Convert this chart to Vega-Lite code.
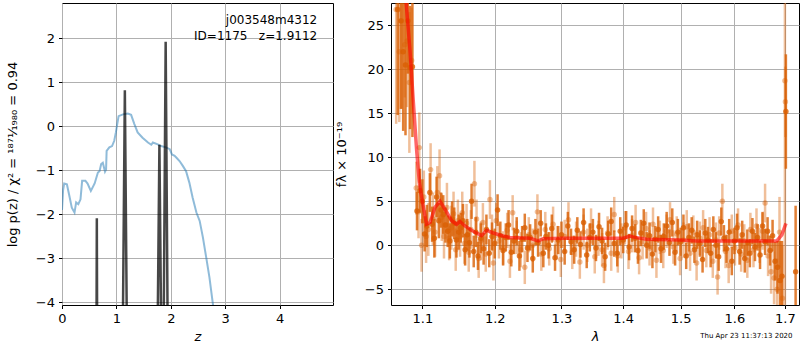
{
  "$schema": "https://vega.github.io/schema/vega-lite/v6.json",
  "padding": {"left": 5, "top": 2, "right": 0, "bottom": 0},
  "background": "white",
  "title": {"text": "Thu Apr 23 11:37:13 2020", "orient": "bottom", "anchor": "end", "fontSize": 7, "font": "DejaVu Sans", "fontWeight": "normal", "color": "black", "offset": -12, "dx": -7},
  "datasets": {
    "pz": [
      {"z": 0.0, "logp": -1.9}, {"z": 0.02, "logp": -1.45}, {"z": 0.04, "logp": -1.3}, {"z": 0.09, "logp": -1.32},
      {"z": 0.13, "logp": -1.55}, {"z": 0.18, "logp": -1.85}, {"z": 0.23, "logp": -1.96}, {"z": 0.26, "logp": -1.73},
      {"z": 0.30, "logp": -1.77}, {"z": 0.34, "logp": -1.66}, {"z": 0.37, "logp": -1.24}, {"z": 0.43, "logp": -1.24},
      {"z": 0.47, "logp": -1.30}, {"z": 0.53, "logp": -1.47}, {"z": 0.60, "logp": -1.30}, {"z": 0.66, "logp": -1.05},
      {"z": 0.69, "logp": -1.02}, {"z": 0.72, "logp": -0.86}, {"z": 0.75, "logp": -0.83}, {"z": 0.79, "logp": -1.03},
      {"z": 0.81, "logp": -0.98}, {"z": 0.82, "logp": -0.56}, {"z": 0.87, "logp": -0.48}, {"z": 0.92, "logp": -0.45},
      {"z": 0.96, "logp": -0.33}, {"z": 0.99, "logp": -0.14}, {"z": 1.04, "logp": 0.23}, {"z": 1.12, "logp": 0.27},
      {"z": 1.21, "logp": 0.29}, {"z": 1.27, "logp": 0.26}, {"z": 1.33, "logp": 0.05}, {"z": 1.39, "logp": -0.14},
      {"z": 1.48, "logp": -0.26}, {"z": 1.58, "logp": -0.37}, {"z": 1.64, "logp": -0.42}, {"z": 1.67, "logp": -0.37},
      {"z": 1.76, "logp": -0.41}, {"z": 1.82, "logp": -0.45}, {"z": 1.91, "logp": -0.48}, {"z": 1.98, "logp": -0.52},
      {"z": 2.02, "logp": -0.64}, {"z": 2.07, "logp": -0.67}, {"z": 2.10, "logp": -0.71}, {"z": 2.16, "logp": -0.79},
      {"z": 2.22, "logp": -0.90}, {"z": 2.28, "logp": -1.02}, {"z": 2.34, "logp": -1.28}, {"z": 2.40, "logp": -1.62},
      {"z": 2.47, "logp": -1.96}, {"z": 2.53, "logp": -2.15}, {"z": 2.59, "logp": -2.53}, {"z": 2.65, "logp": -2.98},
      {"z": 2.71, "logp": -3.44}, {"z": 2.77, "logp": -4.01}, {"z": 2.80, "logp": -4.3}
    ],
    "spikes": [
      {"z": 0.635, "logp": -4.3}, {"z": 0.640, "logp": -2.09}, {"z": 0.645, "logp": -4.3},
      {"z": 1.12, "logp": -4.3}, {"z": 1.155, "logp": 0.82}, {"z": 1.19, "logp": -4.3},
      {"z": 1.76, "logp": -4.3}, {"z": 1.79, "logp": -0.42}, {"z": 1.82, "logp": -4.3},
      {"z": 1.87, "logp": -4.3}, {"z": 1.905, "logp": 1.92}, {"z": 1.94, "logp": -4.3}
    ],
    "labels": [
      {"z": 4.69, "logp": 2.41, "txt": "j003548m4312"},
      {"z": 4.69, "logp": 2.06, "txt": "ID=1175\u00a0\u00a0\u00a0z=1.9112"}
    ],
    "model": [
      {"lam": 1.070, "f": 36.0}, {"lam": 1.0786, "f": 27.8}, {"lam": 1.0839, "f": 22.1}, {"lam": 1.0881, "f": 16.4},
      {"lam": 1.0926, "f": 10.7}, {"lam": 1.0959, "f": 7.3}, {"lam": 1.100, "f": 5.0}, {"lam": 1.1056, "f": 2.4},
      {"lam": 1.1102, "f": 2.6}, {"lam": 1.1168, "f": 4.3}, {"lam": 1.1236, "f": 5.0}, {"lam": 1.1303, "f": 4.1},
      {"lam": 1.1394, "f": 2.8}, {"lam": 1.1462, "f": 2.4}, {"lam": 1.1508, "f": 2.7}, {"lam": 1.1577, "f": 2.2},
      {"lam": 1.1692, "f": 1.6}, {"lam": 1.1811, "f": 1.1}, {"lam": 1.1883, "f": 1.7}, {"lam": 1.1978, "f": 1.4},
      {"lam": 1.2122, "f": 1.06}, {"lam": 1.2220, "f": 0.9}, {"lam": 1.2516, "f": 0.8}, {"lam": 1.2643, "f": 0.5},
      {"lam": 1.2720, "f": 0.75}, {"lam": 1.3026, "f": 0.8}, {"lam": 1.3562, "f": 0.8}, {"lam": 1.400, "f": 0.8},
      {"lam": 1.4115, "f": 1.06}, {"lam": 1.4200, "f": 0.9}, {"lam": 1.4400, "f": 0.7}, {"lam": 1.500, "f": 0.6},
      {"lam": 1.5294, "f": 0.5}, {"lam": 1.600, "f": 0.5}, {"lam": 1.6836, "f": 0.5}, {"lam": 1.6937, "f": 1.2},
      {"lam": 1.7022, "f": 2.5}
    ],
    "specA": [
      {"lam": 1.068, "f": 26.8, "e": 12}, {"lam": 1.072, "f": 25.5, "e": 10}, {"lam": 1.075, "f": 22.0, "e": 9},
      {"lam": 1.078, "f": 20.5, "e": 8}, {"lam": 1.081, "f": 25.5, "e": 6}, {"lam": 1.084, "f": 20.2, "e": 7},
      {"lam": 1.087, "f": 20.3, "e": 8}, {"lam": 1.093, "f": 3.9, "e": 2.2}, {"lam": 1.097, "f": 6.2, "e": 2.5},
      {"lam": 1.100, "f": 5.0, "e": 2.5}, {"lam": 1.103, "f": 1.3, "e": 2.0}, {"lam": 1.106, "f": 2.2, "e": 2.4},
      {"lam": 1.110, "f": 6.0, "e": 2.2}, {"lam": 1.113, "f": 2.4, "e": 2.0}, {"lam": 1.116, "f": 0.8, "e": 2.2},
      {"lam": 1.119, "f": 5.5, "e": 2.3}, {"lam": 1.122, "f": 2.8, "e": 2.0}, {"lam": 1.125, "f": 4.0, "e": 2.0},
      {"lam": 1.128, "f": 3.5, "e": 2.2}, {"lam": 1.131, "f": 2.3, "e": 2.0}, {"lam": 1.134, "f": 1.6, "e": 1.8},
      {"lam": 1.137, "f": 0.5, "e": 2.0}, {"lam": 1.140, "f": 3.0, "e": 2.0}, {"lam": 1.143, "f": 2.5, "e": 1.8},
      {"lam": 1.146, "f": 0.6, "e": 2.0}, {"lam": 1.149, "f": 1.5, "e": 2.0}, {"lam": 1.152, "f": 2.0, "e": 1.7},
      {"lam": 1.155, "f": 2.8, "e": 1.9}, {"lam": 1.158, "f": -0.5, "e": 1.8}, {"lam": 1.161, "f": 1.2, "e": 1.8},
      {"lam": 1.164, "f": 0.3, "e": 1.7}, {"lam": 1.167, "f": 5.0, "e": 2.0}, {"lam": 1.170, "f": -0.7, "e": 1.8},
      {"lam": 1.173, "f": 1.5, "e": 1.7}, {"lam": 1.176, "f": -1.2, "e": 1.6}, {"lam": 1.180, "f": 0.8, "e": 1.7},
      {"lam": 1.184, "f": -0.4, "e": 1.8}, {"lam": 1.188, "f": 1.8, "e": 1.7}, {"lam": 1.192, "f": -0.9, "e": 1.6},
      {"lam": 1.196, "f": 1.0, "e": 1.6}, {"lam": 1.200, "f": 0.2, "e": 1.7}, {"lam": 1.204, "f": 4.0, "e": 1.8},
      {"lam": 1.208, "f": 1.1, "e": 1.6}, {"lam": 1.212, "f": -0.6, "e": 1.7}, {"lam": 1.216, "f": 0.9, "e": 1.6},
      {"lam": 1.220, "f": 2.3, "e": 1.7}, {"lam": 1.224, "f": -0.8, "e": 1.6}, {"lam": 1.228, "f": 0.5, "e": 1.5},
      {"lam": 1.232, "f": 1.6, "e": 1.6}, {"lam": 1.236, "f": -1.2, "e": 1.7}, {"lam": 1.240, "f": 0.7, "e": 1.5},
      {"lam": 1.244, "f": 2.0, "e": 1.6}, {"lam": 1.248, "f": -0.3, "e": 1.6}, {"lam": 1.252, "f": 0.9, "e": 1.5},
      {"lam": 1.256, "f": -1.5, "e": 1.6}, {"lam": 1.260, "f": 1.5, "e": 1.5}, {"lam": 1.264, "f": 0.3, "e": 1.6},
      {"lam": 1.268, "f": 2.5, "e": 1.5}, {"lam": 1.272, "f": -0.9, "e": 1.6}, {"lam": 1.276, "f": 1.0, "e": 1.5},
      {"lam": 1.280, "f": 0.0, "e": 1.5}, {"lam": 1.285, "f": 1.9, "e": 1.6}, {"lam": 1.290, "f": -1.4, "e": 1.5},
      {"lam": 1.295, "f": 0.6, "e": 1.6}, {"lam": 1.300, "f": 1.2, "e": 1.5}, {"lam": 1.305, "f": -0.7, "e": 1.5},
      {"lam": 1.310, "f": 2.2, "e": 1.6}, {"lam": 1.315, "f": 0.4, "e": 1.5}, {"lam": 1.320, "f": -0.5, "e": 1.6},
      {"lam": 1.325, "f": 1.7, "e": 1.5}, {"lam": 1.330, "f": 0.1, "e": 1.5}, {"lam": 1.335, "f": 2.6, "e": 1.6},
      {"lam": 1.340, "f": -1.1, "e": 1.5}, {"lam": 1.345, "f": 0.9, "e": 1.6}, {"lam": 1.350, "f": 1.5, "e": 1.5},
      {"lam": 1.355, "f": -0.3, "e": 1.5}, {"lam": 1.360, "f": 2.1, "e": 1.6}, {"lam": 1.365, "f": 0.5, "e": 1.5},
      {"lam": 1.370, "f": -1.3, "e": 1.6}, {"lam": 1.375, "f": 1.3, "e": 1.5}, {"lam": 1.380, "f": 2.7, "e": 1.6},
      {"lam": 1.385, "f": 0.2, "e": 1.5}, {"lam": 1.390, "f": -0.9, "e": 1.5}, {"lam": 1.395, "f": 1.6, "e": 1.6},
      {"lam": 1.400, "f": 0.6, "e": 1.5}, {"lam": 1.405, "f": 2.3, "e": 1.6}, {"lam": 1.410, "f": -0.2, "e": 1.5},
      {"lam": 1.415, "f": 1.9, "e": 1.5}, {"lam": 1.420, "f": 0.8, "e": 1.6}, {"lam": 1.425, "f": -0.6, "e": 1.5},
      {"lam": 1.430, "f": 1.4, "e": 1.5}, {"lam": 1.435, "f": 2.5, "e": 1.6}, {"lam": 1.440, "f": 0.0, "e": 1.5},
      {"lam": 1.445, "f": 1.1, "e": 1.5}, {"lam": 1.450, "f": -1.0, "e": 1.6}, {"lam": 1.455, "f": 0.7, "e": 1.5},
      {"lam": 1.460, "f": 1.8, "e": 1.5}, {"lam": 1.465, "f": -0.4, "e": 1.6}, {"lam": 1.470, "f": 1.0, "e": 1.5},
      {"lam": 1.475, "f": 2.2, "e": 1.6}, {"lam": 1.480, "f": 0.3, "e": 1.5}, {"lam": 1.485, "f": 2.6, "e": 1.6},
      {"lam": 1.490, "f": -0.8, "e": 1.5}, {"lam": 1.495, "f": 1.5, "e": 1.5}, {"lam": 1.500, "f": 0.4, "e": 1.6},
      {"lam": 1.505, "f": 2.0, "e": 1.5}, {"lam": 1.510, "f": -1.2, "e": 1.5}, {"lam": 1.515, "f": 0.9, "e": 1.6},
      {"lam": 1.520, "f": 1.7, "e": 1.5}, {"lam": 1.525, "f": -0.5, "e": 1.5}, {"lam": 1.530, "f": 1.2, "e": 1.6},
      {"lam": 1.535, "f": 0.2, "e": 1.5}, {"lam": 1.540, "f": -1.6, "e": 1.5}, {"lam": 1.545, "f": 1.4, "e": 1.6},
      {"lam": 1.550, "f": 0.6, "e": 1.5}, {"lam": 1.555, "f": -0.9, "e": 1.6}, {"lam": 1.560, "f": 1.8, "e": 1.5},
      {"lam": 1.565, "f": 0.0, "e": 1.5}, {"lam": 1.570, "f": -1.3, "e": 1.6}, {"lam": 1.575, "f": 2.7, "e": 1.6},
      {"lam": 1.580, "f": 0.8, "e": 1.5}, {"lam": 1.585, "f": -0.4, "e": 1.6}, {"lam": 1.590, "f": 1.5, "e": 1.5},
      {"lam": 1.595, "f": -1.8, "e": 1.6}, {"lam": 1.600, "f": 0.5, "e": 1.5}, {"lam": 1.605, "f": 2.0, "e": 1.6},
      {"lam": 1.610, "f": -0.7, "e": 1.5}, {"lam": 1.615, "f": 1.2, "e": 1.6}, {"lam": 1.620, "f": -1.5, "e": 1.6},
      {"lam": 1.625, "f": 0.3, "e": 1.5}, {"lam": 1.630, "f": -0.9, "e": 1.6}, {"lam": 1.635, "f": 1.6, "e": 1.5},
      {"lam": 1.640, "f": -0.2, "e": 1.6}, {"lam": 1.645, "f": 0.9, "e": 1.5}, {"lam": 1.650, "f": -1.1, "e": 1.6},
      {"lam": 1.655, "f": 2.2, "e": 1.6}, {"lam": 1.660, "f": 0.4, "e": 1.5}, {"lam": 1.665, "f": 1.6, "e": 1.6},
      {"lam": 1.670, "f": -0.6, "e": 1.7}, {"lam": 1.675, "f": 1.1, "e": 1.8}, {"lam": 1.680, "f": -1.8, "e": 2.2},
      {"lam": 1.685, "f": -2.5, "e": 3.0}, {"lam": 1.690, "f": -4.0, "e": 4.5}, {"lam": 1.694, "f": -3.5, "e": 4.0},
      {"lam": 1.702, "f": 15.2, "e": 6.5}, {"lam": 1.722, "f": -3.0, "e": 7.5}
    ],
    "specB": [
      {"lam": 1.066, "f": 26.8, "e": 13}, {"lam": 1.070, "f": 22.0, "e": 8}, {"lam": 1.073, "f": 25.5, "e": 10},
      {"lam": 1.077, "f": 22.8, "e": 6}, {"lam": 1.080, "f": 23.2, "e": 7.5}, {"lam": 1.083, "f": 18.5, "e": 8},
      {"lam": 1.086, "f": 21.0, "e": 6}, {"lam": 1.096, "f": 11.1, "e": 4}, {"lam": 1.092, "f": 6.5, "e": 3},
      {"lam": 1.095, "f": 3.8, "e": 3}, {"lam": 1.099, "f": 0.0, "e": 3}, {"lam": 1.102, "f": 5.5, "e": 3},
      {"lam": 1.105, "f": 1.0, "e": 3}, {"lam": 1.108, "f": 1.8, "e": 3}, {"lam": 1.111, "f": 8.6, "e": 3},
      {"lam": 1.114, "f": 3.0, "e": 3}, {"lam": 1.117, "f": 1.5, "e": 2.8}, {"lam": 1.120, "f": 6.0, "e": 3},
      {"lam": 1.123, "f": 7.9, "e": 3}, {"lam": 1.126, "f": 3.2, "e": 2.7}, {"lam": 1.129, "f": 1.0, "e": 2.5},
      {"lam": 1.133, "f": 4.3, "e": 2.8}, {"lam": 1.136, "f": 0.8, "e": 2.5}, {"lam": 1.139, "f": 2.0, "e": 2.5},
      {"lam": 1.142, "f": 3.6, "e": 2.5}, {"lam": 1.145, "f": -0.5, "e": 2.4}, {"lam": 1.148, "f": 2.8, "e": 2.4},
      {"lam": 1.151, "f": 1.0, "e": 2.3}, {"lam": 1.154, "f": 3.7, "e": 2.4}, {"lam": 1.157, "f": 0.2, "e": 2.3},
      {"lam": 1.160, "f": 2.5, "e": 2.2}, {"lam": 1.163, "f": -0.8, "e": 2.2}, {"lam": 1.166, "f": 1.8, "e": 2.2},
      {"lam": 1.171, "f": 7.0, "e": 2.6}, {"lam": 1.174, "f": 3.0, "e": 2.2}, {"lam": 1.177, "f": -1.5, "e": 2.2},
      {"lam": 1.180, "f": 0.5, "e": 2.2}, {"lam": 1.183, "f": 2.6, "e": 2.2}, {"lam": 1.187, "f": -1.0, "e": 2.0},
      {"lam": 1.193, "f": 5.2, "e": 2.2}, {"lam": 1.196, "f": 1.5, "e": 2.0}, {"lam": 1.198, "f": -2.0, "e": 2.0},
      {"lam": 1.202, "f": 2.8, "e": 2.0}, {"lam": 1.206, "f": 0.5, "e": 2.0}, {"lam": 1.212, "f": -0.3, "e": 1.9},
      {"lam": 1.218, "f": 1.7, "e": 2.0}, {"lam": 1.222, "f": -1.8, "e": 1.9}, {"lam": 1.226, "f": 3.7, "e": 2.0},
      {"lam": 1.232, "f": 0.9, "e": 1.9}, {"lam": 1.238, "f": -0.5, "e": 2.0}, {"lam": 1.244, "f": -2.5, "e": 1.9},
      {"lam": 1.250, "f": 1.2, "e": 2.0}, {"lam": 1.256, "f": 0.0, "e": 1.9}, {"lam": 1.263, "f": 3.8, "e": 2.0},
      {"lam": 1.269, "f": -1.0, "e": 1.9}, {"lam": 1.275, "f": 1.8, "e": 2.0}, {"lam": 1.281, "f": -0.4, "e": 1.9},
      {"lam": 1.287, "f": 2.4, "e": 2.0}, {"lam": 1.293, "f": 0.3, "e": 1.9}, {"lam": 1.299, "f": -1.6, "e": 2.0},
      {"lam": 1.305, "f": 1.0, "e": 1.9}, {"lam": 1.311, "f": 2.9, "e": 2.0}, {"lam": 1.317, "f": -0.8, "e": 1.9},
      {"lam": 1.323, "f": 0.7, "e": 2.0}, {"lam": 1.329, "f": -1.9, "e": 1.9}, {"lam": 1.335, "f": 1.5, "e": 2.0},
      {"lam": 1.341, "f": 0.0, "e": 1.9}, {"lam": 1.347, "f": 2.2, "e": 2.0}, {"lam": 1.353, "f": -1.3, "e": 1.9},
      {"lam": 1.359, "f": 0.8, "e": 2.0}, {"lam": 1.365, "f": -0.5, "e": 1.9}, {"lam": 1.368, "f": -2.3, "e": 2.0},
      {"lam": 1.374, "f": 1.4, "e": 1.9}, {"lam": 1.380, "f": -0.9, "e": 2.0}, {"lam": 1.385, "f": 3.5, "e": 2.0},
      {"lam": 1.391, "f": -1.2, "e": 1.9}, {"lam": 1.397, "f": 0.5, "e": 2.0}, {"lam": 1.403, "f": 2.0, "e": 1.9},
      {"lam": 1.409, "f": -0.7, "e": 2.0}, {"lam": 1.415, "f": 1.1, "e": 1.9}, {"lam": 1.421, "f": 2.6, "e": 2.0},
      {"lam": 1.427, "f": -1.4, "e": 1.9}, {"lam": 1.433, "f": 0.4, "e": 2.0}, {"lam": 1.439, "f": 1.9, "e": 1.9},
      {"lam": 1.445, "f": -0.3, "e": 2.0}, {"lam": 1.451, "f": 2.4, "e": 1.9}, {"lam": 1.457, "f": -1.7, "e": 2.0},
      {"lam": 1.463, "f": 0.9, "e": 1.9}, {"lam": 1.469, "f": -0.6, "e": 2.0}, {"lam": 1.475, "f": 1.6, "e": 1.9},
      {"lam": 1.481, "f": 2.9, "e": 2.0}, {"lam": 1.487, "f": -0.2, "e": 1.9}, {"lam": 1.493, "f": 1.3, "e": 2.0},
      {"lam": 1.499, "f": -1.5, "e": 1.9}, {"lam": 1.505, "f": 0.6, "e": 2.0}, {"lam": 1.511, "f": 2.1, "e": 1.9},
      {"lam": 1.517, "f": -0.9, "e": 2.0}, {"lam": 1.523, "f": 1.5, "e": 1.9}, {"lam": 1.529, "f": -2.0, "e": 2.0},
      {"lam": 1.535, "f": 0.8, "e": 1.9}, {"lam": 1.541, "f": 2.0, "e": 2.0}, {"lam": 1.547, "f": -0.6, "e": 1.9},
      {"lam": 1.553, "f": 1.2, "e": 2.0}, {"lam": 1.559, "f": -1.8, "e": 1.9}, {"lam": 1.565, "f": 0.6, "e": 2.0},
      {"lam": 1.568, "f": -3.6, "e": 2.0}, {"lam": 1.571, "f": 1.4, "e": 1.9}, {"lam": 1.577, "f": 5.0, "e": 2.0},
      {"lam": 1.583, "f": -0.7, "e": 1.9}, {"lam": 1.589, "f": -2.3, "e": 2.0}, {"lam": 1.595, "f": 1.6, "e": 1.9},
      {"lam": 1.601, "f": -0.3, "e": 2.0}, {"lam": 1.607, "f": 2.3, "e": 1.9}, {"lam": 1.613, "f": -1.0, "e": 2.0},
      {"lam": 1.619, "f": 0.5, "e": 1.9}, {"lam": 1.625, "f": -1.7, "e": 2.0}, {"lam": 1.631, "f": 1.8, "e": 1.9},
      {"lam": 1.637, "f": -0.5, "e": 2.0}, {"lam": 1.643, "f": 2.2, "e": 2.0}, {"lam": 1.649, "f": 0.0, "e": 2.0},
      {"lam": 1.655, "f": 1.6, "e": 2.1}, {"lam": 1.660, "f": 4.8, "e": 2.2}, {"lam": 1.666, "f": -1.2, "e": 2.3},
      {"lam": 1.672, "f": -3.0, "e": 2.5}, {"lam": 1.678, "f": -3.7, "e": 3.0}, {"lam": 1.684, "f": -5.0, "e": 3.5},
      {"lam": 1.689, "f": 1.5, "e": 4.0}, {"lam": 1.695, "f": -6.0, "e": 6.0}, {"lam": 1.700, "f": 18.7, "e": 30},
      {"lam": 1.701, "f": 16.3, "e": 4}
    ]
  },
  "hconcat": [
    {
      "width": 271,
      "height": 302,
      "layer": [
        {
          "data": {"name": "pz"},
          "mark": {"type": "line", "color": "#1f77b4", "opacity": 0.5, "strokeWidth": 2, "clip": true},
          "encoding": {
            "x": {"field": "z", "type": "quantitative", "title": "z", "scale": {"domain": [0, 4.98], "nice": false, "zero": false},
                  "axis": {"values": [0, 1, 2, 3, 4], "format": "d", "titleFontStyle": "italic"}},
            "y": {"field": "logp", "type": "quantitative", "title": "log p(z) / χ² = ¹⁸⁷¹⁄₁₉₈₀ = 0.94", "scale": {"domain": [-4.06, 2.8], "nice": false, "zero": false},
                  "axis": {"values": [-4, -3, -2, -1, 0, 1, 2], "format": "d", "titlePadding": 16}}
          }
        },
        {
          "data": {"name": "spikes"},
          "mark": {"type": "line", "color": "black", "opacity": 0.72, "strokeWidth": 2.5, "clip": true},
          "encoding": {
            "x": {"field": "z", "type": "quantitative", "title": "z"},
            "y": {"field": "logp", "type": "quantitative", "title": "log p(z) / χ² = ¹⁸⁷¹⁄₁₉₈₀ = 0.94"}
          }
        },
        {
          "data": {"name": "labels"},
          "mark": {"type": "text", "align": "right", "baseline": "middle", "fontSize": 12, "font": "DejaVu Sans", "color": "black"},
          "encoding": {
            "x": {"field": "z", "type": "quantitative", "title": "z"},
            "y": {"field": "logp", "type": "quantitative", "title": "log p(z) / χ² = ¹⁸⁷¹⁄₁₉₈₀ = 0.94"},
            "text": {"field": "txt"}
          }
        }
      ]
    },
    {
      "width": 408,
      "height": 302,
      "layer": [
        {
          "data": {"name": "specB"},
          "mark": {"type": "errorbar", "color": "#d95f02", "opacity": 0.4, "thickness": 2.5, "clip": true},
          "encoding": {
            "x": {"field": "lam", "type": "quantitative", "title": "λ", "scale": {"type": "log", "domain": [1.0594, 1.729], "nice": false, "zero": false},
                  "axis": {"values": [1.1, 1.2, 1.3, 1.4, 1.5, 1.6, 1.7], "format": ".1f", "titleFontStyle": "italic"}},
            "y": {"field": "f", "type": "quantitative", "title": "fλ × 10⁻¹⁹", "scale": {"domain": [-6.78, 27.53], "nice": false, "zero": false},
                  "axis": {"values": [-5, 0, 5, 10, 15, 20, 25], "format": "d", "titlePadding": 16}},
            "yError": {"field": "e"}
          }
        },
        {
          "data": {"name": "specB"},
          "mark": {"type": "circle", "color": "#d95f02", "opacity": 0.4, "size": 30, "clip": true},
          "encoding": {
            "x": {"field": "lam", "type": "quantitative", "title": "λ"},
            "y": {"field": "f", "type": "quantitative", "title": "fλ × 10⁻¹⁹"}
          }
        },
        {
          "data": {"name": "specA"},
          "mark": {"type": "errorbar", "color": "#d95f02", "opacity": 0.8, "thickness": 2.5, "clip": true},
          "encoding": {
            "x": {"field": "lam", "type": "quantitative", "title": "λ"},
            "y": {"field": "f", "type": "quantitative", "title": "fλ × 10⁻¹⁹"},
            "yError": {"field": "e"}
          }
        },
        {
          "data": {"name": "specA"},
          "mark": {"type": "circle", "color": "#d95f02", "opacity": 0.8, "size": 30, "clip": true},
          "encoding": {
            "x": {"field": "lam", "type": "quantitative", "title": "λ"},
            "y": {"field": "f", "type": "quantitative", "title": "fλ × 10⁻¹⁹"}
          }
        },
        {
          "data": {"name": "model"},
          "mark": {"type": "line", "color": "red", "opacity": 0.6, "strokeWidth": 3.5, "clip": true},
          "encoding": {
            "x": {"field": "lam", "type": "quantitative", "title": "λ"},
            "y": {"field": "f", "type": "quantitative", "title": "fλ × 10⁻¹⁹"}
          }
        },
        {
          "mark": {"type": "rule", "color": "black", "strokeDash": [2, 3], "strokeWidth": 2},
          "encoding": {"y": {"datum": 0}}
        }
      ]
    }
  ],
  "spacing": 0,
  "resolve": {"scale": {"x": "independent", "y": "independent"}},
  "config": {
    "view": {"stroke": "black", "strokeWidth": 1},
    "axis": {
      "grid": true, "gridColor": "#b0b0b0", "gridWidth": 1, "gridOpacity": 1,
      "domain": false, "tickColor": "black", "tickSize": 3.5, "tickWidth": 1,
      "labelFont": "DejaVu Sans", "labelFontSize": 13, "labelColor": "black", "labelPadding": 4,
      "labelFlush": false, "labelOverlap": false,
      "titleFont": "DejaVu Sans", "titleFontSize": 13, "titleFontWeight": "normal", "titleColor": "black", "titlePadding": 5
    }
  }
}
